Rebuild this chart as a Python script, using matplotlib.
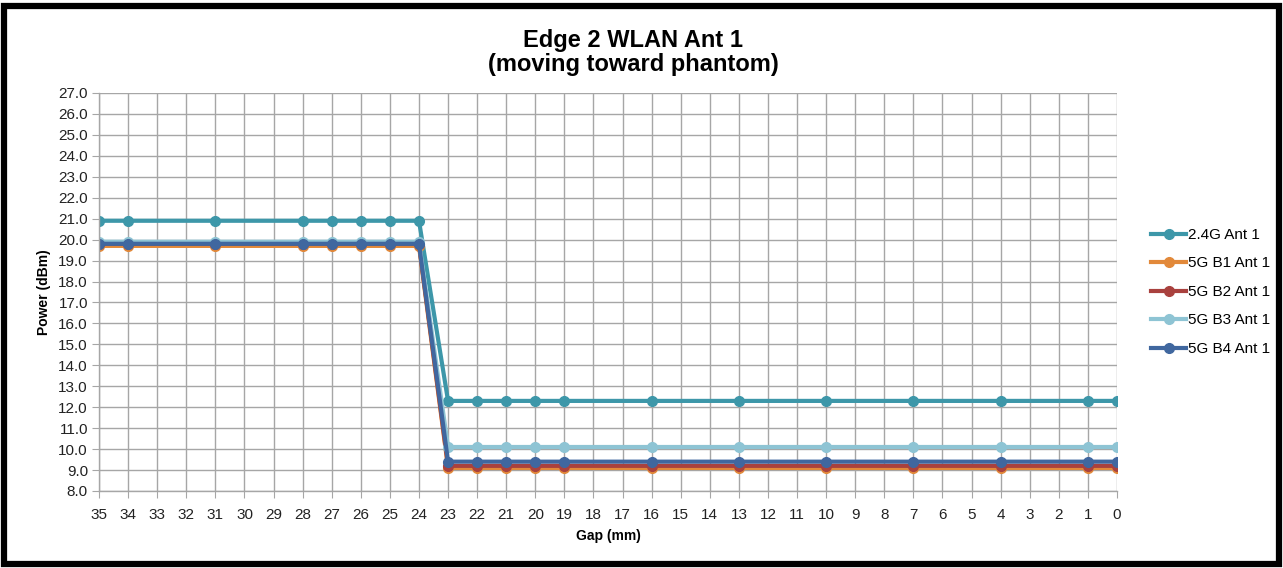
import matplotlib
matplotlib.use("Agg")
import matplotlib.pyplot as plt
from matplotlib.patches import Rectangle

plt.rcParams["font.family"] = ["Liberation Sans", "DejaVu Sans"]

# categorical gap axis (35 down to 0)
gaps = [str(g) for g in range(35, -1, -1)]

# gaps where a measurement was taken
meas_gaps = [35, 34, 31, 28, 27, 26, 25, 24, 23, 22, 21, 20, 19, 16, 13, 10, 7, 4, 1, 0]

series_names = ["2.4G Ant 1", "5G B1 Ant 1", "5G B2 Ant 1", "5G B3 Ant 1", "5G B4 Ant 1"]
p_24g = [20.9] * 8 + [12.3] * 12
p_b1 = [19.7] * 8 + [9.1] * 12
p_b2 = [19.8] * 8 + [9.2] * 12
p_b3 = [19.9] * 8 + [10.1] * 12
p_b4 = [19.8] * 8 + [9.4] * 12

colors = ["#3D97A9", "#E2893A", "#A9413E", "#8EC4D4", "#40679F"]
yticks = [8.0 + i for i in range(20)]

fig = plt.figure(figsize=(12.83, 5.68), dpi=100)
ax = fig.add_axes([0.0772, 0.1356, 0.7934, 0.7007])

xpos = [gaps.index(str(g)) for g in meas_gaps]
for name, vals, c in zip(series_names, [p_24g, p_b1, p_b2, p_b3, p_b4], colors):
    ax.plot(xpos, vals, "-o", color=c, lw=3, ms=7, label=name)

ax.set_xlim(0, len(gaps) - 1)
ax.set_ylim(8, 27)
ax.set_xticks(range(len(gaps)))
ax.set_xticklabels(gaps)
ax.set_yticks(yticks)
ax.set_yticklabels([f"{v:.1f}" for v in yticks])
ax.grid(True, color="#A6A6A6", lw=1)
ax.set_axisbelow(True)
for s in ["top", "right"]:
    ax.spines[s].set_visible(False)
for s in ["left", "bottom"]:
    ax.spines[s].set_color("#A6A6A6")
    ax.spines[s].set_linewidth(1)
ax.tick_params(axis="x", length=5, color="#A6A6A6", labelsize=11, pad=7, labelcolor="#222222")
ax.tick_params(axis="y", length=5, color="#A6A6A6", labelsize=11, pad=3, labelcolor="#222222")

ax.set_xlabel("Gap (mm)", fontsize=10, fontweight="bold", labelpad=5)
ax.set_ylabel("Power (dBm)", fontsize=10, fontweight="bold", labelpad=5)
fig.text(0.4935, 0.908, "Edge 2 WLAN Ant 1\n(moving toward phantom)", ha="center", va="center",
         fontsize=17, fontweight="bold", linespacing=1.05)

ax.legend(loc="center left", bbox_to_anchor=(1.02, 0.5), frameon=False, fontsize=11,
          handlelength=2.3, handletextpad=0.1, labelspacing=0.95)

fig.patches.append(Rectangle((0.0035, 0.007), 0.993, 0.982, transform=fig.transFigure,
                             fill=False, edgecolor="black", lw=4.5))

fig.savefig("out.png", dpi=100)
